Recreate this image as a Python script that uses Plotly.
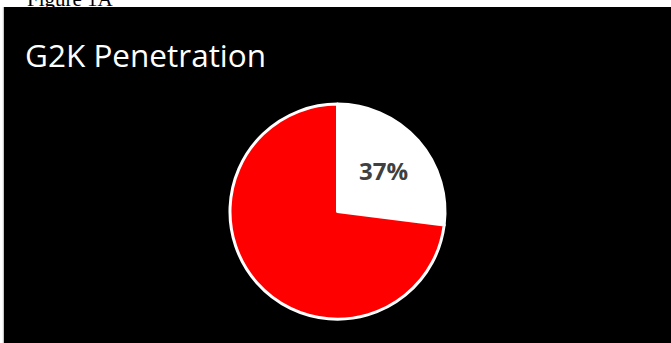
import plotly.graph_objects as go

# Data
labels = ["G2K", "Other"]
values = [27, 73]
slice_text = ["37%", ""]
colors = ["#FFFFFF", "#FF0000"]
title_text = "G2K Penetration"
caption_text = "Figure 1A"

W, H = 671, 343
ml, mt = 4, 7

fig = go.Figure(
    go.Pie(
        labels=labels,
        values=values,
        text=slice_text,
        textinfo="text",
        textposition="inside",
        insidetextorientation="horizontal",
        textfont=dict(family="Open Sans", size=24, color="#404040", weight=700),
        marker=dict(colors=colors, line=dict(color="#FFFFFF", width=3)),
        sort=False,
        direction="clockwise",
        rotation=0,
        showlegend=False,
        hoverinfo="skip",
        domain=dict(x=[0, 1], y=[0.071, 0.711]),
    )
)

fig.update_layout(
    width=W,
    height=H,
    margin=dict(l=ml, r=0, t=mt, b=0),
    paper_bgcolor="#FFFFFF",
    plot_bgcolor="#000000",
    shapes=[
        dict(type="rect", xref="paper", yref="paper", x0=0, x1=1, y0=0, y1=1,
             fillcolor="#000000", line=dict(width=0), layer="below"),
        dict(type="line", xref="paper", yref="paper", x0=-0.001, x1=-0.001, y0=0, y1=1,
             line=dict(color="#BBBBBB", width=1), layer="below"),
    ],
    annotations=[
        dict(text=title_text, xref="paper", yref="paper", x=(23 - ml) / (W - ml), y=1,
             xanchor="left", yanchor="top", yshift=-24, showarrow=False,
             font=dict(family="Open Sans", size=31.5, color="#FFFFFF")),
        dict(text=caption_text, xref="paper", yref="paper", x=(25 - ml) / (W - ml), y=1,
             xanchor="left", yanchor="bottom", yshift=-6, showarrow=False,
             font=dict(family="Liberation Serif", size=21, color="#000000")),
    ],
)

fig.write_html("out.html")
